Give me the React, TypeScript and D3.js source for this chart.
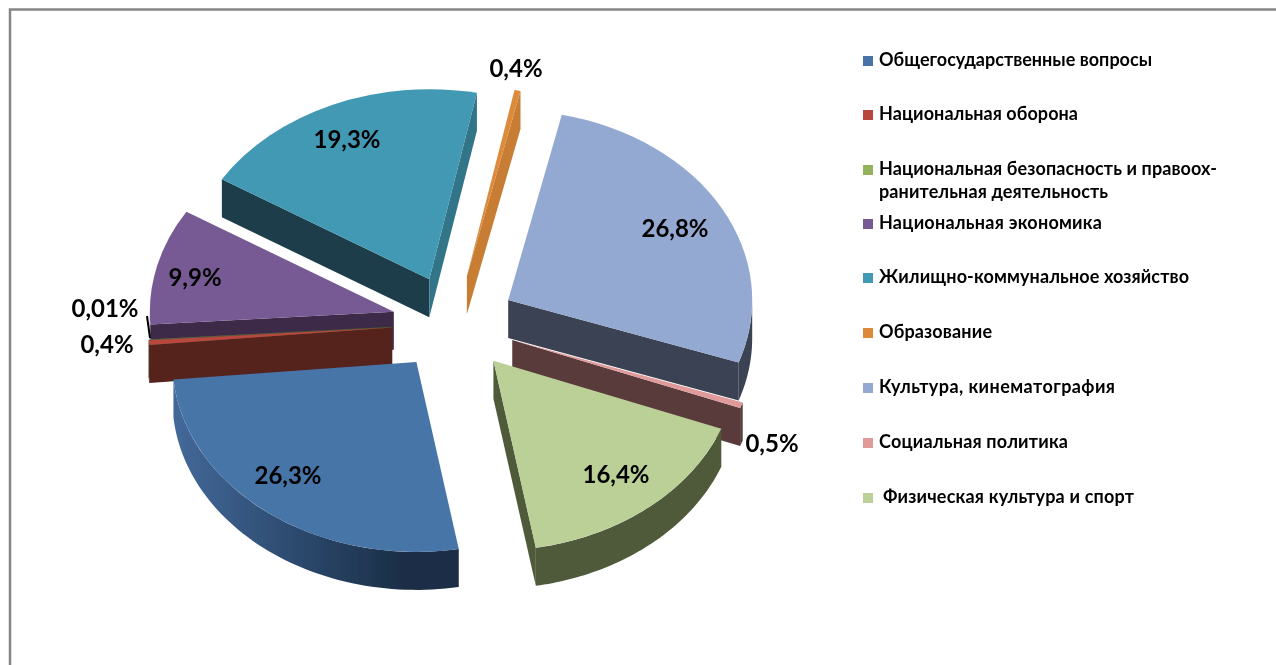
import React from 'react';
import * as d3 from 'd3';

const categories = [
  'Общегосударственные вопросы',
  'Национальная оборона',
  'Национальная безопасность и правоох-\nранительная деятельность',
  'Национальная экономика',
  'Жилищно-коммунальное хозяйство',
  'Образование',
  'Культура, кинематография',
  'Социальная политика',
  ' Физическая культура и спорт',
];
const values = [26.3, 0.4, 0.01, 9.9, 19.3, 0.4, 26.8, 0.5, 16.4];
const valueLabels = ['26,3%', '0,4%', '0,01%', '9,9%', '19,3%', '0,4%', '26,8%', '0,5%', '16,4%'];

const topColors = ['#4674a8', '#b8463f', '#93b35a', '#775a94', '#4299b3', '#dc8a3a', '#94a9d1', '#e09a9a', '#bad097'];
const wallColors = ['#1b2e47', '#55211f', '#4a5a2c', '#3c2a4a', '#1c3e4a', '#a96a2c', '#3b4252', '#5a3a3b', '#4f5a3b'];

// hand placed in the original chart, so these stay as layout
const labelPos: [number, number][] = [
  [288, 476], [107, 345], [105, 309], [195, 278], [347, 140], [516, 69], [675, 229], [772, 444], [616, 475],
];
const legendBaselines = [66, 120, 175, 229, 283, 338, 393, 448, 503];
const legendWidths = [273, 199, 338, 223, 310, 113, 236, 189, 251];
const legendSecondWidth = 229;

const cx = 454;
const cy = 323.5;
const rx = 244;
const ry = 190;
const explode = 62;
const depth = 38;
const rad = Math.PI / 180;

const pie = d3.pie<number>().sort(null).startAngle(170 * rad).endAngle(530 * rad);
const slices = pie(values);
const arc = d3.arc<d3.PieArcDatum<number>>().innerRadius(0).outerRadius(rx);
const line = d3.line();

// position on the squashed circle, angle clockwise from north
const polar = (a: number, r: number, ox = 0, oy = 0): [number, number] => [
  ox + r * Math.sin(a),
  oy - (r * Math.cos(a) * ry) / rx,
];

type Part = { key: string; d: string; fill: string };

function wallParts(s: d3.PieArcDatum<number>, apex: [number, number]): Part[] {
  const i = s.index;
  const parts: Part[] = [];
  const face = (a: number, normal: number, name: string) => {
    if (-Math.cos(normal) <= 0) return;
    const p = polar(a, rx, apex[0], apex[1]);
    const fill = Math.sin(normal) > 0.8
      ? d3.interpolateRgb(topColors[i], wallColors[i])(0.4)
      : wallColors[i];
    parts.push({
      key: name,
      d: line([apex, p, [p[0], p[1] + depth], [apex[0], apex[1] + depth]]) + 'Z',
      fill,
    });
  };
  face(s.startAngle, s.startAngle - Math.PI / 2, 'start');
  face(s.endAngle, s.endAngle + Math.PI / 2, 'end');

  // outer wall only where the rim faces the viewer
  const turn = Math.floor(s.startAngle / (2 * Math.PI)) * 2 * Math.PI;
  [turn, turn + 2 * Math.PI].forEach((t, n) => {
    const a0 = Math.max(s.startAngle, t + Math.PI / 2);
    const a1 = Math.min(s.endAngle, t + 1.5 * Math.PI);
    if (a1 <= a0) return;
    const steps = d3.range(0, 61).map((k) => a0 + ((a1 - a0) * k) / 60);
    const rim = steps.map((a) => polar(a, rx, apex[0], apex[1]));
    const low = rim.map(([x, y]) => [x, y + depth] as [number, number]).reverse();
    parts.push({
      key: 'rim' + n,
      d: line([...rim, ...low]) + 'Z',
      fill: i === 0 ? 'url(#blueWall)' : wallColors[i],
    });
  });
  return parts;
}

const drawn = slices
  .map((s) => {
    const mid = (s.startAngle + s.endAngle) / 2;
    return { s, apex: polar(mid, explode, cx, cy) };
  })
  .sort((a, b) => d3.ascending(a.apex[1], b.apex[1]));

export default function App() {
  const font = 'Lato, "Open Sans", sans-serif';
  return (
    <svg
      width={1276}
      height={665}
      style={{ position: 'absolute', left: 0, top: 0, display: 'block', background: '#fff' }}
    >
      <defs>
        <linearGradient id="blueWall" x1="0" x2="1" y1="0" y2="0">
          <stop offset="0" stopColor="#43699a" />
          <stop offset="0.45" stopColor="#2b486c" />
          <stop offset="0.8" stopColor="#1b2e47" />
        </linearGradient>
        <filter id="soft" x="-5%" y="-5%" width="110%" height="110%">
          <feGaussianBlur stdDeviation="0.6" />
        </filter>
      </defs>

      <path d="M1276,9.5H10V665" fill="none" stroke="#868686" strokeWidth={2.5} />

      <g filter="url(#soft)">
        {drawn.map(({ s, apex }) => (
          <g key={s.index}>
            {wallParts(s, apex).map((p) => (
              <path key={p.key} d={p.d} fill={p.fill} />
            ))}
            <path
              d={arc(s) as string}
              fill={topColors[s.index]}
              transform={`translate(${apex[0]},${apex[1]}) scale(1,${ry / rx})`}
            />
          </g>
        ))}
      </g>

      <line x1={147} y1={316} x2={150} y2={338} stroke="#000" strokeWidth={2} />

      <g fontFamily={font} fontWeight={700} fontSize={24} fill="#000" textAnchor="middle">
        {valueLabels.map((t, i) => (
          <text key={i} x={labelPos[i][0]} y={labelPos[i][1]} dy="0.35em">
            {t}
          </text>
        ))}
      </g>

      <g fontFamily={font} fontWeight={700} fontSize={18} fill="#000">
        {categories.map((c, i) => {
          const y = legendBaselines[i];
          const rows = c.split('\n');
          return (
            <g key={i}>
              <rect x={863} y={y - 10} width={10} height={10} fill={topColors[i]} />
              {rows.map((r, k) => (
                <text
                  key={k}
                  x={c.startsWith(' ') ? 883 : 879}
                  y={y + k * 23}
                  textLength={k === 0 ? legendWidths[i] : legendSecondWidth}
                >
                  {r.trim()}
                </text>
              ))}
            </g>
          );
        })}
      </g>
    </svg>
  );
}
